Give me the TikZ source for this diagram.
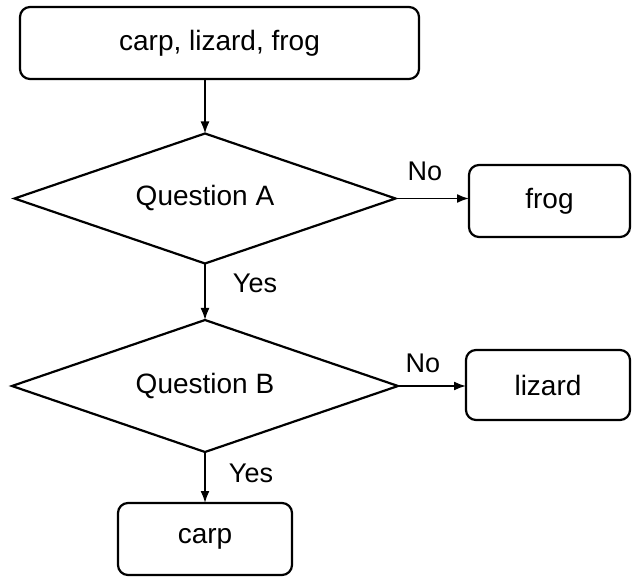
\documentclass[tikz,border=0pt]{standalone}
\usepackage{fontspec}
\setmainfont{Liberation Sans}
\usetikzlibrary{shapes.geometric,arrows.meta}
\tikzset{
  box/.style={draw=black, line width=2.2pt, rounded corners=10pt, inner sep=0pt, outer sep=0pt,
    font=\fontsize{28}{33}\selectfont},
  dia/.style={draw=black, line width=2.2pt, diamond, inner sep=0pt, outer sep=0pt},
  dtext/.style={font=\fontsize{28}{33}\selectfont},
  lbl/.style={inner sep=0pt, font=\fontsize{27}{32}\selectfont},
  conn/.style={draw=black, line width=1.8pt, -{Latex[length=12pt,width=9pt]}}
}
\begin{document}
\begin{tikzpicture}[x=1pt,y=-1pt]
\useasboundingbox (0,0) rectangle (632,577);
\node[box, minimum width=399pt, minimum height=72pt] (top) at (219.5,43) {carp, lizard, frog};
\node[dia, minimum width=381pt, minimum height=130pt] (qa) at (205,198.5) {};
\node[dtext] (qatext) at (qa.center) {Question A};
\node[box, minimum width=161pt, minimum height=72pt] (frog) at (549.5,201) {frog};
\node[dia, minimum width=386pt, minimum height=132pt] (qb) at (205,386) {};
\node[dtext] (qbtext) at (qb.center) {Question B};
\node[box, minimum width=164pt, minimum height=70pt] (lizard) at (548,385) {lizard};
\node[box, minimum width=174pt, minimum height=72pt] (carp) at (205,539) {carp};
\node[lbl] (noA) at (425,171) {No};
\node[lbl] (noB) at (423,363) {No};
\node[lbl] (yesA) at (255,283) {Yes};
\node[lbl] (yesB) at (251,473) {Yes};
\draw[conn] (qa.north |- top.south) -- (qa.north);
\draw[conn] (qa.east) -- (qa.east -| frog.west);
\draw[conn] (qa.south) -- (qb.north);
\draw[conn] (qb.east) -- (qb.east -| lizard.west);
\draw[conn] (qb.south) -- (carp.north);
\end{tikzpicture}
\end{document}
